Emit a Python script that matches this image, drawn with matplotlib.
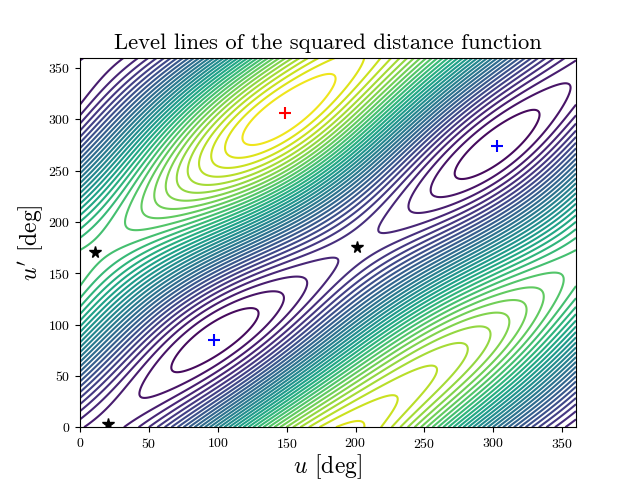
import numpy as np
import matplotlib
matplotlib.use("Agg")
import matplotlib.pyplot as plt

# Computer Modern look, without needing a LaTeX install.
plt.rcParams['font.family'] = ['cmr10', 'DejaVu Sans']
plt.rcParams['mathtext.fontset'] = 'cm'
plt.rcParams['axes.formatter.use_mathtext'] = True

# Critical points (deg), with their estimated level index.
crit_u = [97.2, 302.6, 148.8, 201, 10.9, 20.3]
crit_v = [84.9, 274, 306.3, 175.6, 170.7, 3]
crit_level = [0.53, 0.4, 36.4, 4.5, 26.0, 2.7]

# Tips of the level lines (deg) and which level they are on.
tip_u = [67.5, 124.8, 43.5, 143.7, 159.7, 180, 270.7, 337.5, 254.7, 357.8, 239.5, 221.3,
         118.3, 185, 105, 95.8, 85.6, 77.6, 70.4, 61.7, 54.4, 45.7, 34.8,
         205, 231.5, 258.3, 279.4, 294.6, 320, 332.4, 345.4,
         112.5, 112.5]
tip_v = [57.6, 109.3, 33.2, 123.9, 140.5, 158, 242.9, 311, 224.4, 336.6, 213.7, 193.2,
         279.5, 343.4, 272, 259.5, 252.7, 247.8, 241, 233, 220.5, 210.7, 205.9,
         4, 30, 57.6, 75, 88.8, 118, 125.9, 140.5,
         154, 166]
tip_level = [1, 1, 2, 2, 3, 4, 1, 1, 2, 2, 3, 4,
             36, 36, 35, 34, 33, 32, 31, 30, 29, 28, 27,
             35, 34, 33, 32, 31, 30, 29, 28,
             7, 10]

# Level lines drawn, and the colour range they sit in.
level_values = list(range(1, 37))
color_min = 0
color_max = 37

tick_values = [0, 50, 100, 150, 200, 250, 300, 350]

# Marked points in the picture.
min_u = [97.2, 302.6]
min_v = [84.9, 274]
max_u = [148.8]
max_v = [306.3]
star_u = [201, 10.9, 20.3]
star_v = [175.6, 170.7, 3]


# Squared distance between two ellipses is a trig polynomial in (u, v),
# so the field is a fit of those terms to the values read above.
def basis(u, v):
    u = np.radians(u)
    v = np.radians(v)
    return np.stack([np.ones_like(u), np.cos(u), np.sin(u), np.cos(2 * u), np.sin(2 * u),
                     np.cos(v), np.sin(v), np.cos(2 * v), np.sin(2 * v),
                     np.cos(u) * np.cos(v), np.cos(u) * np.sin(v),
                     np.sin(u) * np.cos(v), np.sin(u) * np.sin(v)], axis=-1)


def basis_du(u, v):
    u = np.radians(u)
    v = np.radians(v)
    zero = np.zeros_like(u)
    return np.stack([zero, -np.sin(u), np.cos(u), -2 * np.sin(2 * u), 2 * np.cos(2 * u),
                     zero, zero, zero, zero,
                     -np.sin(u) * np.cos(v), -np.sin(u) * np.sin(v),
                     np.cos(u) * np.cos(v), np.cos(u) * np.sin(v)], axis=-1)


def basis_dv(u, v):
    u = np.radians(u)
    v = np.radians(v)
    zero = np.zeros_like(u)
    return np.stack([zero, zero, zero, zero, zero,
                     -np.sin(v), np.cos(v), -2 * np.sin(2 * v), 2 * np.cos(2 * v),
                     -np.cos(u) * np.sin(v), np.cos(u) * np.cos(v),
                     -np.sin(u) * np.sin(v), np.sin(u) * np.cos(v)], axis=-1)


cu = np.array(crit_u, dtype=float)
cv = np.array(crit_v, dtype=float)
tu = np.array(tip_u, dtype=float)
tv = np.array(tip_v, dtype=float)

# Gradient is zero at the critical points, weighted higher so they stay put.
grad_weight = 3.0
A = np.vstack([basis(cu, cv), basis(tu, tv),
               grad_weight * basis_du(cu, cv), grad_weight * basis_dv(cu, cv)])
b = np.concatenate([crit_level, tip_level, np.zeros(2 * len(cu))])
coef = np.linalg.lstsq(A, b, rcond=None)[0]

grid_u, grid_v = np.meshgrid(np.linspace(0, 360, 361), np.linspace(0, 360, 361))
field = basis(grid_u, grid_v) @ coef

fig, ax = plt.subplots()
ax.contour(grid_u, grid_v, field, levels=level_values, cmap='viridis',
           vmin=color_min, vmax=color_max)
ax.plot(min_u, min_v, '+', color='blue', markersize=9, markeredgewidth=1.5)
ax.plot(max_u, max_v, '+', color='red', markersize=9, markeredgewidth=1.5)
ax.plot(star_u, star_v, '*', color='black', markersize=8.5)

ax.set_xlim(0, 360)
ax.set_ylim(0, 360)
ax.set_xticks(tick_values)
ax.set_yticks(tick_values)
ax.set_title("Level lines of the squared distance function", fontsize=16.3)
ax.set_xlabel(r"$u$ [deg]", fontsize=17, labelpad=1)
ax.set_ylabel(r"$u'$ [deg]", fontsize=17, labelpad=2)

fig.savefig("out.png", dpi=100)
